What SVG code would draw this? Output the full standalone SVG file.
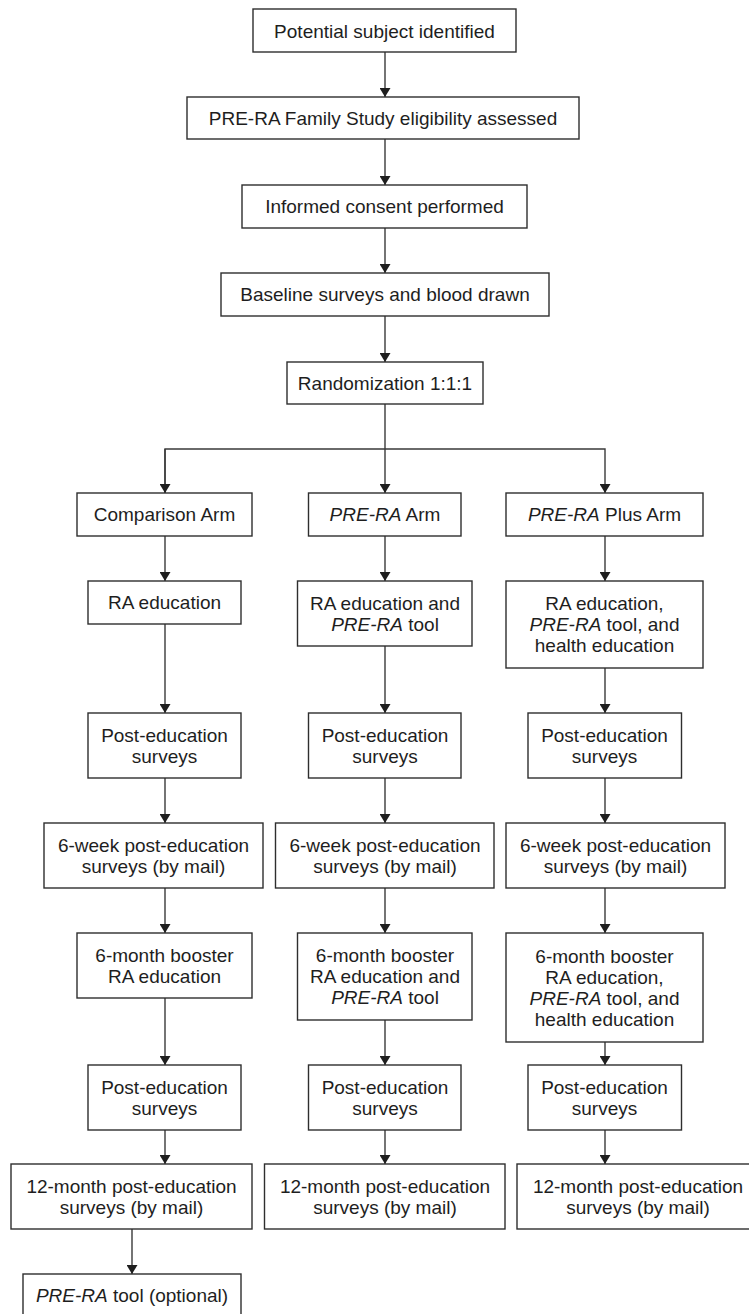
<svg xmlns="http://www.w3.org/2000/svg" width="749" height="1314" viewBox="0 0 749 1314">
<style>
rect{fill:#fff;stroke:#2e2e2e;stroke-width:1.4}
text{font-family:"Liberation Sans",Arial,sans-serif;font-size:19px;fill:#1e1e1e;text-anchor:middle}
.i{font-style:italic}
#connectors path{fill:none;stroke:#3a3a3a;stroke-width:1.4}
</style>
<defs>
<marker id="ah" viewBox="0 0 9 11" refX="9" refY="5.5" markerWidth="9" markerHeight="11" markerUnits="userSpaceOnUse" orient="auto">
<path d="M0,0 L9,5.5 L0,11 z" fill="#1e1e1e"/>
</marker>
</defs>
<rect x="0" y="0" width="749" height="1314" style="stroke:none"/>
<g id="connectors">
<path d="M385,52 V97" marker-end="url(#ah)"/>
<path d="M385,139 V185" marker-end="url(#ah)"/>
<path d="M385,228 V273" marker-end="url(#ah)"/>
<path d="M385,316 V362" marker-end="url(#ah)"/>
<path d="M385,404 V493" marker-end="url(#ah)"/>
<path d="M165,493 V449 H605 V493" marker-end="url(#ah)"/>
<path d="M165,449 V493" marker-end="url(#ah)"/>
<path d="M165,536 V581" marker-end="url(#ah)"/>
<path d="M165,624 V713" marker-end="url(#ah)"/>
<path d="M165,778 V823" marker-end="url(#ah)"/>
<path d="M165,888 V933" marker-end="url(#ah)"/>
<path d="M165,998 V1065" marker-end="url(#ah)"/>
<path d="M165,1130 V1164" marker-end="url(#ah)"/>
<path d="M132,1229 V1274" marker-end="url(#ah)"/>
<path d="M385,536 V581" marker-end="url(#ah)"/>
<path d="M385,646 V713" marker-end="url(#ah)"/>
<path d="M385,778 V823" marker-end="url(#ah)"/>
<path d="M385,888 V933" marker-end="url(#ah)"/>
<path d="M385,1020 V1065" marker-end="url(#ah)"/>
<path d="M385,1130 V1164" marker-end="url(#ah)"/>
<path d="M605,536 V581" marker-end="url(#ah)"/>
<path d="M605,668 V713" marker-end="url(#ah)"/>
<path d="M605,778 V823" marker-end="url(#ah)"/>
<path d="M605,888 V933" marker-end="url(#ah)"/>
<path d="M605,1042 V1065" marker-end="url(#ah)"/>
<path d="M605,1130 V1164" marker-end="url(#ah)"/>
</g>
<g id="n1"><rect x="253" y="9" width="263" height="43"/><text x="384.5" y="37.5">Potential subject identified</text></g>
<g id="n2"><rect x="187" y="97" width="392" height="42"/><text x="383" y="124.8">PRE-RA Family Study eligibility assessed</text></g>
<g id="n3"><rect x="242" y="185" width="285" height="43"/><text x="384.5" y="213.3">Informed consent performed</text></g>
<g id="n4"><rect x="221" y="273" width="328" height="43"/><text x="385" y="301.3">Baseline surveys and blood drawn</text></g>
<g id="n5"><rect x="287" y="362" width="196" height="42"/><text x="385" y="389.8">Randomization 1:1:1</text></g>

<g id="armA"><rect x="77" y="493" width="175" height="43"/><text x="164.5" y="521.3">Comparison Arm</text></g>
<g id="armB"><rect x="308.5" y="493" width="152.5" height="43"/><text x="385" y="521.3"><tspan class="i">PRE-RA</tspan> Arm</text></g>
<g id="armC"><rect x="506" y="493" width="197" height="43"/><text x="604.5" y="521.3"><tspan class="i">PRE-RA</tspan> Plus Arm</text></g>

<g id="a2"><rect x="88" y="581" width="153" height="43"/><text x="164.5" y="609.3">RA education</text></g>
<g id="b2"><rect x="297.5" y="581" width="174.5" height="65"/><text x="385" y="609.8">RA education and</text><text x="385" y="630.8"><tspan class="i">PRE-RA</tspan> tool</text></g>
<g id="c2"><rect x="506" y="581" width="197" height="87"/><text x="604.5" y="610.3">RA education,</text><text x="604.5" y="631.3"><tspan class="i">PRE-RA</tspan> tool, and</text><text x="604.5" y="652.3">health education</text></g>

<g id="a3"><rect x="88" y="713" width="153" height="65"/><text x="164.5" y="741.8">Post-education</text><text x="164.5" y="762.8">surveys</text></g>
<g id="b3"><rect x="308.5" y="713" width="152.5" height="65"/><text x="385" y="741.8">Post-education</text><text x="385" y="762.8">surveys</text></g>
<g id="c3"><rect x="528" y="713" width="153.5" height="65"/><text x="604.5" y="741.8">Post-education</text><text x="604.5" y="762.8">surveys</text></g>

<g id="a4"><rect x="44" y="823" width="219" height="65"/><text x="153.5" y="851.8">6-week post-education</text><text x="153.5" y="872.8">surveys (by mail)</text></g>
<g id="b4"><rect x="275.5" y="823" width="218.5" height="65"/><text x="385" y="851.8">6-week post-education</text><text x="385" y="872.8">surveys (by mail)</text></g>
<g id="c4"><rect x="506" y="823" width="219" height="65"/><text x="615.5" y="851.8">6-week post-education</text><text x="615.5" y="872.8">surveys (by mail)</text></g>

<g id="a5"><rect x="77" y="933" width="175" height="65"/><text x="164.5" y="961.8">6-month booster</text><text x="164.5" y="982.8">RA education</text></g>
<g id="b5"><rect x="297.5" y="933" width="174.5" height="87"/><text x="385" y="962.3">6-month booster</text><text x="385" y="983.3">RA education and</text><text x="385" y="1004.3"><tspan class="i">PRE-RA</tspan> tool</text></g>
<g id="c5"><rect x="506" y="933" width="197" height="109"/><text x="604.5" y="962.8">6-month booster</text><text x="604.5" y="983.8">RA education,</text><text x="604.5" y="1004.8"><tspan class="i">PRE-RA</tspan> tool, and</text><text x="604.5" y="1025.8">health education</text></g>

<g id="a6"><rect x="88" y="1065" width="153" height="65"/><text x="164.5" y="1093.8">Post-education</text><text x="164.5" y="1114.8">surveys</text></g>
<g id="b6"><rect x="308.5" y="1065" width="152.5" height="65"/><text x="385" y="1093.8">Post-education</text><text x="385" y="1114.8">surveys</text></g>
<g id="c6"><rect x="528" y="1065" width="153.5" height="65"/><text x="604.5" y="1093.8">Post-education</text><text x="604.5" y="1114.8">surveys</text></g>

<g id="a7"><rect x="11" y="1164" width="241" height="65"/><text x="131.5" y="1192.8">12-month post-education</text><text x="131.5" y="1213.8">surveys (by mail)</text></g>
<g id="b7"><rect x="264.5" y="1164" width="240.5" height="65"/><text x="385" y="1192.8">12-month post-education</text><text x="385" y="1213.8">surveys (by mail)</text></g>
<g id="c7"><rect x="517" y="1164" width="242" height="65"/><text x="638" y="1192.8">12-month post-education</text><text x="638" y="1213.8">surveys (by mail)</text></g>

<g id="a8"><rect x="23" y="1274" width="218" height="43"/><text x="132" y="1302.3"><tspan class="i">PRE-RA</tspan> tool (optional)</text></g>
</svg>
